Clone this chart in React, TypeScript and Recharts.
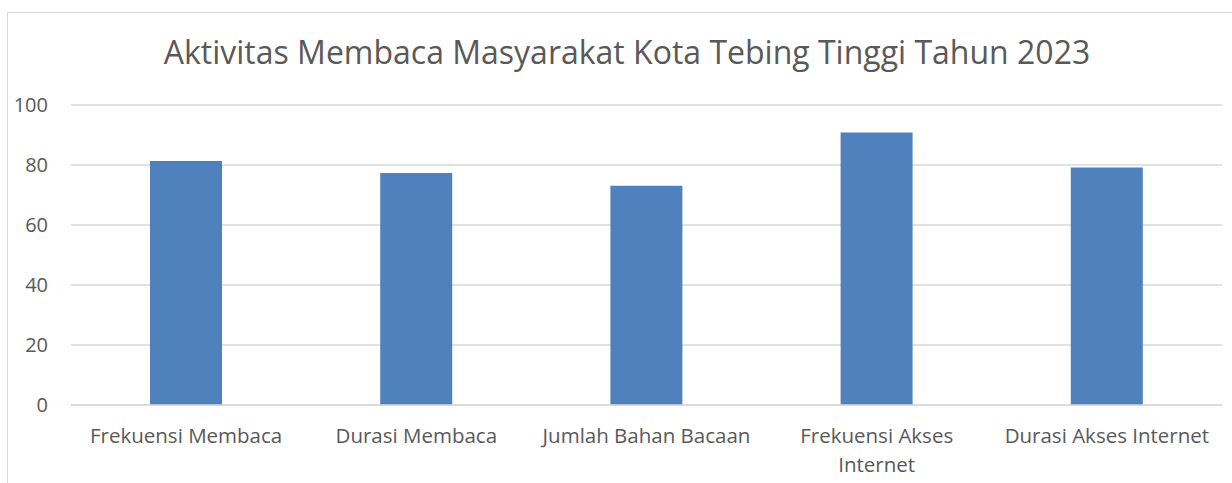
import { BarChart, Bar, XAxis, YAxis, CartesianGrid } from "recharts";

const TITLE = "Aktivitas Membaca Masyarakat Kota Tebing Tinggi Tahun 2023";
const CATEGORIES = [
  "Frekuensi Membaca",
  "Durasi Membaca",
  "Jumlah Bahan Bacaan",
  "Frekuensi Akses Internet",
  "Durasi Akses Internet",
];
const VALUES = [81.3, 77.3, 73.1, 90.8, 79.2];
const Y_TICKS = [0, 20, 40, 60, 80, 100];

const data = CATEGORIES.map((name, i) => ({ name, value: VALUES[i] }));

const FONT = "'Open Sans', Lato, sans-serif";
const TEXT = "#595959";
const GRID = "#d9d9d9";

// excel wraps the long label onto two lines
function CategoryTick({ x, y, payload }: any) {
  const label: string = payload.value;
  let lines = [label];
  if (label.length > 22) {
    const cut = label.lastIndexOf(" ");
    lines = [label.slice(0, cut), label.slice(cut + 1)];
  }
  return (
    <text x={x} y={y} textAnchor="middle" fill={TEXT} fontSize={20.5} fontFamily={FONT}>
      {lines.map((l, i) => (
        <tspan key={i} x={x} dy={i === 0 ? 0 : 28.5}>
          {l}
        </tspan>
      ))}
    </text>
  );
}

export default function App() {
  return (
    <div style={{ position: "absolute", left: 0, top: 0, width: 1232, height: 483, background: "#fff" }}>
      <div
        style={{
          position: "absolute",
          left: 7,
          top: 12,
          width: 1240,
          height: 480,
          border: `1px solid ${GRID}`,
        }}
      />
      <svg width={1232} height={483} style={{ position: "absolute", left: 0, top: 0 }}>
        <text x={627} y={64} textAnchor="middle" fill={TEXT} fontSize={32} fontFamily={FONT}>
          {TITLE}
        </text>
      </svg>
      <div style={{ position: "absolute", left: 0, top: 0 }}>
        <BarChart
          width={1232}
          height={483}
          data={data}
          margin={{ top: 105, right: 10, bottom: 18, left: 0 }}
        >
          <CartesianGrid vertical={false} stroke={GRID} strokeWidth={1.3} />
          <XAxis
            dataKey="name"
            height={60}
            axisLine={{ stroke: GRID, strokeWidth: 1.3 }}
            tickLine={false}
            tickSize={0}
            tickMargin={38}
            interval={0}
            tick={<CategoryTick />}
          />
          <YAxis
            domain={[0, 100]}
            ticks={Y_TICKS}
            width={71}
            axisLine={false}
            tickLine={false}
            tickSize={0}
            tickMargin={23}
            tick={{ fill: TEXT, fontSize: 20, fontFamily: FONT }}
          />
          <Bar dataKey="value" fill="#4f81bd" barSize={72} isAnimationActive={false} />
        </BarChart>
      </div>
    </div>
  );
}
